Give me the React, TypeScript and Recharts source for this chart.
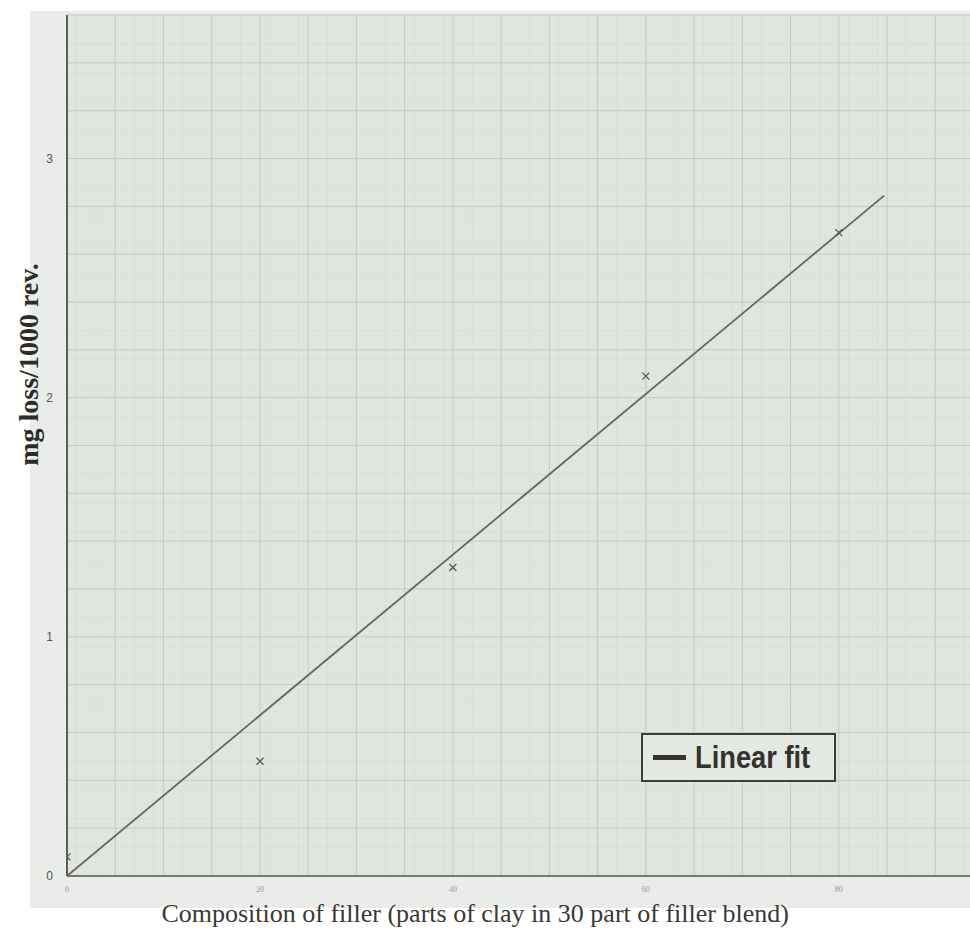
import { ComposedChart, Line, Scatter, XAxis, YAxis, CartesianGrid, Legend } from 'recharts';

// measured points (parts of clay, mg loss / 1000 rev)
const clayParts = [0, 20, 40, 60, 80];
const massLoss = [0.08, 0.48, 1.29, 2.09, 2.69];

// fitted straight line, drawn between its two end points
const fitX = [0, 84.7];
const fitY = [0, 2.845];

const xTicks = [0, 20, 40, 60, 80];
const yTicks = [0, 1, 2, 3];
const xMax = 93.6;
const yMax = 3.6;

// graph paper rulings: minor every 1 part / 0.04, major every 5 parts / 0.2
const minorX = Array.from({ length: 94 }, (_, i) => i);
const minorY = Array.from({ length: 91 }, (_, i) => +(i * 0.04).toFixed(2));
const majorX = Array.from({ length: 19 }, (_, i) => i * 5);
const majorY = Array.from({ length: 19 }, (_, i) => +(i * 0.2).toFixed(1));

const points = clayParts.map((x, i) => ({ x, y: massLoss[i] }));
const fit = fitX.map((x, i) => ({ x, y: fitY[i] }));

const serif = '"Liberation Serif", "DejaVu Serif", serif';

function XMark(props: any) {
  const { cx, cy } = props;
  const r = 3.5;
  return (
    <g stroke="#5a5650" strokeWidth={1.3}>
      <line x1={cx - r} y1={cy - r} x2={cx + r} y2={cy + r} />
      <line x1={cx - r} y1={cy + r} x2={cx + r} y2={cy - r} />
    </g>
  );
}

function FitLegend() {
  return (
    <div style={{
      width: 195, height: 49, border: '2.5px solid #3f3c38', background: '#e4eae3',
      display: 'flex', alignItems: 'center', justifyContent: 'center', gap: 9,
      fontFamily: '"Liberation Sans", Arial, sans-serif', fontWeight: 'bold', fontSize: 31,
      color: '#35322e', boxSizing: 'border-box', paddingRight: 4,
    }}>
      <div style={{ width: 33, height: 5, background: '#35322e' }} />
      <span style={{ display: 'inline-block', width: 126, whiteSpace: 'nowrap' }}>
        <span style={{ display: 'inline-block', transform: 'scaleX(0.88)', transformOrigin: 'left center' }}>Linear fit</span>
      </span>
    </div>
  );
}

function XTitle(props: any) {
  const { viewBox } = props;
  const x = viewBox.x + viewBox.width * 0.452;
  const y = viewBox.y + viewBox.height - 8;
  return (
    <text x={x} y={y} textAnchor="middle" fontFamily={serif} fontSize={26} fill="#3a3835">
      Composition of filler (parts of clay in 30 part of filler blend)
    </text>
  );
}

function YTitle(props: any) {
  const { viewBox } = props;
  const x = viewBox.x + 29;
  const y = viewBox.y + viewBox.height * 0.406;
  return (
    <text x={x} y={y} transform={`rotate(-90 ${x} ${y})`} textAnchor="middle" dominantBaseline="central"
      fontFamily={serif} fontWeight="bold" fontSize={28} fill="#2e2c2a">
      mg loss/1000 rev.
    </text>
  );
}

export default function App() {
  return (
    <div style={{ position: 'absolute', left: 0, top: 0, width: 970, height: 930, background: '#fff' }}>
      <div style={{ position: 'absolute', left: 30, top: 11, width: 940, height: 897, background: '#e9ece9' }} />
      <ComposedChart width={970} height={930} margin={{ top: 15, right: 0, bottom: 0, left: 0 }}
        style={{ position: 'absolute', left: 0, top: 0 }}>
        <CartesianGrid fill="#dfe6de" stroke="#d3dcd2" strokeWidth={0.6}
          verticalValues={minorX} horizontalValues={minorY} />
        <CartesianGrid fill="none" stroke="#c2cec1" strokeWidth={1}
          verticalValues={majorX} horizontalValues={majorY} />
        <XAxis type="number" dataKey="x" domain={[0, xMax]} ticks={xTicks} allowDataOverflow
          height={54} tickLine={false} axisLine={{ stroke: '#7b766d', strokeWidth: 2 }}
          tick={{ fontSize: 8, fill: '#9a9a92', fontFamily: serif }} tickMargin={4}
          label={{ content: XTitle }} />
        <YAxis type="number" domain={[0, yMax]} ticks={yTicks} allowDataOverflow
          width={67} tickLine={false} axisLine={{ stroke: '#5f5f58', strokeWidth: 2 }}
          tick={{ fontSize: 12, fill: '#55554f', fontFamily: '"Liberation Sans", sans-serif' }} tickMargin={8}
          label={{ content: YTitle }} />
        <Line data={fit} dataKey="y" type="linear" stroke="#6b655c" strokeWidth={1.8}
          dot={false} activeDot={false} isAnimationActive={false} legendType="line" name="Linear fit" />
        <Scatter data={points} dataKey="y" shape={XMark} isAnimationActive={false} legendType="none" />
        <Legend layout="vertical" align="center" verticalAlign="middle" content={FitLegend}
          wrapperStyle={{ position: 'absolute', left: 641, top: 733, width: 195, height: 49 }} />
      </ComposedChart>
    </div>
  );
}
